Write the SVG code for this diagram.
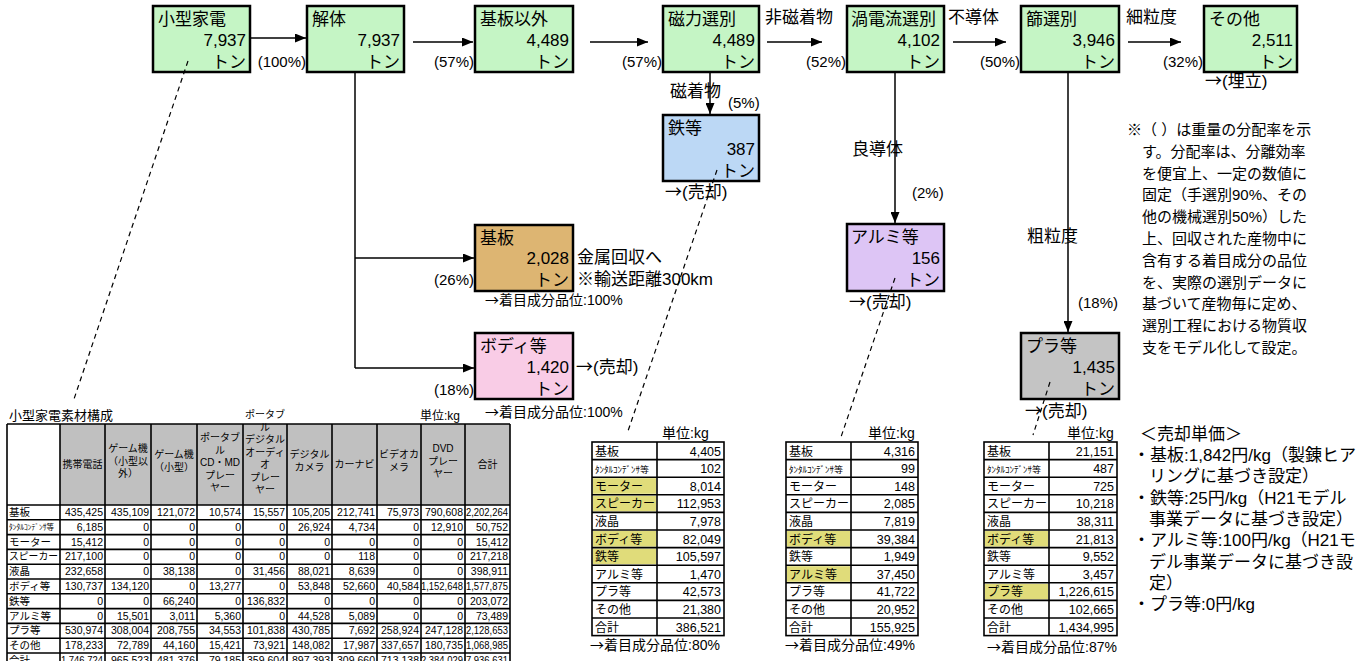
<svg xmlns="http://www.w3.org/2000/svg" width="1367" height="661" viewBox="0 0 1367 661">
<defs>
<marker id="ah" markerUnits="userSpaceOnUse" markerWidth="11" markerHeight="9" refX="11" refY="4.5" orient="auto"><path d="M0,0 L11,4.5 L0,9 z" fill="#000"/></marker>
<style>
text{font-family:"Liberation Sans","Noto Sans CJK JP",sans-serif;fill:#000}
.ja{font-family:"Noto Sans CJK JP",sans-serif}
.box{stroke:#000;stroke-width:2.5}
.bt{font-size:17px}
.r{text-anchor:end}
.c{text-anchor:middle}
.p{font-size:15px}
.s14{font-size:14px}
.ln{stroke:#000;stroke-width:1.5;fill:none}
.ar{stroke:#000;stroke-width:1.5;fill:none;marker-end:url(#ah)}
.ds{stroke:#000;stroke-width:1.2;fill:none;stroke-dasharray:5 4}
.g{stroke:#000;stroke-width:1.6;fill:none}
.th{font-size:10px;text-anchor:middle}
.tl{font-size:10.5px}
.n{font-size:10.5px;text-anchor:end}
.sl{font-size:12px}
.sn{font-size:12.5px;text-anchor:end}
.hl{fill:#e0dc7a}
.nt{font-size:15px}
.pr{font-size:17px}
</style>
</defs>
<rect width="1367" height="661" fill="#fff"/>

<!-- flow nodes -->
<g id="n-kogata"><rect class="box" x="153" y="6" width="97" height="66" fill="#c5f5c5"/><text class="bt" x="158" y="25">小型家電</text><text class="bt r" x="246" y="46">7,937</text><text class="bt r" x="246" y="68">トン</text></g>
<g id="n-kaitai"><rect class="box" x="307" y="6" width="97" height="66" fill="#c5f5c5"/><text class="bt" x="312" y="25">解体</text><text class="bt r" x="400" y="46">7,937</text><text class="bt r" x="400" y="68">トン</text></g>
<g id="n-kibanigai"><rect class="box" x="475" y="6" width="98" height="66" fill="#c5f5c5"/><text class="bt" x="480" y="25">基板以外</text><text class="bt r" x="569" y="46">4,489</text><text class="bt r" x="569" y="68">トン</text></g>
<g id="n-jiryoku"><rect class="box" x="663" y="6" width="96" height="66" fill="#c5f5c5"/><text class="bt" x="668" y="25">磁力選別</text><text class="bt r" x="755" y="46">4,489</text><text class="bt r" x="755" y="68">トン</text></g>
<g id="n-kadenryu"><rect class="box" x="847" y="6" width="97" height="66" fill="#c5f5c5"/><text class="bt" x="851" y="25">渦電流選別</text><text class="bt r" x="940" y="46">4,102</text><text class="bt r" x="940" y="68">トン</text></g>
<g id="n-furui"><rect class="box" x="1021" y="6" width="98" height="66" fill="#c5f5c5"/><text class="bt" x="1026" y="25">篩選別</text><text class="bt r" x="1115" y="46">3,946</text><text class="bt r" x="1115" y="68">トン</text></g>
<g id="n-sonota"><rect class="box" x="1204" y="6" width="93" height="66" fill="#c5f5c5"/><text class="bt" x="1209" y="25">その他</text><text class="bt r" x="1293" y="46">2,511</text><text class="bt r" x="1293" y="68">トン</text></g>
<g id="n-tetsu"><rect class="box" x="663" y="115" width="96" height="66" fill="#bcd8f5"/><text class="bt" x="668" y="134">鉄等</text><text class="bt r" x="755" y="155">387</text><text class="bt r" x="755" y="177">トン</text></g>
<g id="n-kiban"><rect class="box" x="475" y="225" width="98" height="66" fill="#ddb572"/><text class="bt" x="480" y="244">基板</text><text class="bt r" x="569" y="264">2,028</text><text class="bt r" x="569" y="286">トン</text></g>
<g id="n-body"><rect class="box" x="475" y="333" width="98" height="66" fill="#f9cce6"/><text class="bt" x="480" y="352">ボディ等</text><text class="bt r" x="569" y="373">1,420</text><text class="bt r" x="569" y="395">トン</text></g>
<g id="n-alumi"><rect class="box" x="847" y="224" width="97" height="67" fill="#ddc5f5"/><text class="bt" x="851" y="243">アルミ等</text><text class="bt r" x="940" y="264">156</text><text class="bt r" x="940" y="286">トン</text></g>
<g id="n-pura"><rect class="box" x="1021" y="333" width="98" height="66" fill="#c4c4c4"/><text class="bt" x="1026" y="352">プラ等</text><text class="bt r" x="1115" y="373">1,435</text><text class="bt r" x="1115" y="395">トン</text></g>

<!-- connectors -->
<g id="connectors">
<line class="ar" x1="251" y1="38" x2="306" y2="38"/>
<line class="ar" x1="413" y1="42" x2="473" y2="42"/>
<line class="ar" x1="590" y1="42" x2="648" y2="42"/>
<line class="ar" x1="767" y1="42" x2="822" y2="42"/>
<line class="ar" x1="953" y1="42" x2="1006" y2="42"/>
<line class="ar" x1="1128" y1="42" x2="1181" y2="42"/>
<line class="ar" x1="710" y1="73" x2="710" y2="114"/>
<line class="ar" x1="895" y1="73" x2="895" y2="223"/>
<line class="ar" x1="1068" y1="73" x2="1068" y2="332"/>
<polyline class="ln" points="355,73 355,368"/>
<line class="ar" x1="355" y1="258" x2="474" y2="258"/>
<line class="ar" x1="355" y1="368" x2="474" y2="368"/>
<line class="ds" x1="188" y1="61" x2="73" y2="402"/>
<line class="ds" x1="717" y1="170" x2="627" y2="434"/>
<line class="ds" x1="895" y1="278" x2="841" y2="437"/>
<line class="ds" x1="1050" y1="382" x2="1033" y2="435"/>
</g>

<!-- flow labels -->
<g id="labels">
<text class="p r" x="306" y="67">(100%)</text>
<text class="p r" x="474" y="67">(57%)</text>
<text class="p r" x="662" y="67">(57%)</text>
<text class="p r" x="846" y="67">(52%)</text>
<text class="p r" x="1020" y="67">(50%)</text>
<text class="p r" x="1203" y="67">(32%)</text>
<text class="bt" x="765" y="23">非磁着物</text>
<text class="bt" x="948" y="23">不導体</text>
<text class="bt" x="1126" y="23">細粒度</text>
<text class="bt" x="1205" y="87"><tspan class="ja">→</tspan>(埋立)</text>
<text class="bt" x="670" y="97">磁着物</text>
<text class="p" x="728" y="108">(5%)</text>
<text class="bt" x="665" y="198"><tspan class="ja">→</tspan>(売却)</text>
<text class="bt" x="852" y="155">良導体</text>
<text class="p" x="912" y="198">(2%)</text>
<text class="bt" x="849" y="308"><tspan class="ja">→</tspan>(売却)</text>
<text class="bt" x="1027" y="242">粗粒度</text>
<text class="p" x="1078" y="308">(18%)</text>
<text class="bt" x="1025" y="417"><tspan class="ja">→</tspan>(売却)</text>
<text class="bt" x="577" y="263">金属回収へ</text>
<text class="bt" x="577" y="285">※輸送距離300km</text>
<text class="p r" x="474" y="285">(26%)</text>
<text class="s14" x="485" y="305"><tspan class="ja">→</tspan>着目成分品位:100%</text>
<text class="bt" x="576" y="373"><tspan class="ja">→</tspan>(売却)</text>
<text class="p r" x="474" y="395">(18%)</text>
<text class="s14" x="485" y="417"><tspan class="ja">→</tspan>着目成分品位:100%</text>
</g>

<!-- note -->
<g id="note">
<text class="nt" x="1127" y="135">※（ ）は重量の分配率を示</text>
<text class="nt" x="1142" y="156.8">す。分配率は、分離効率</text>
<text class="nt" x="1142" y="178.6">を便宜上、一定の数値に</text>
<text class="nt" x="1142" y="200.4">固定（手選別90%、その</text>
<text class="nt" x="1142" y="222.2">他の機械選別50%）した</text>
<text class="nt" x="1142" y="244">上、回収された産物中に</text>
<text class="nt" x="1142" y="265.8">含有する着目成分の品位</text>
<text class="nt" x="1142" y="287.6">を、実際の選別データに</text>
<text class="nt" x="1142" y="309.4">基づいて産物毎に定め、</text>
<text class="nt" x="1142" y="331.2">選別工程における物質収</text>
<text class="nt" x="1142" y="353">支をモデル化して設定。</text>
</g>

<g id="prices">
<text class="pr" x="1140" y="440">＜売却単価＞</text>
<text class="pr" x="1133" y="461">・基板:1,842円/kg（製錬ヒア</text>
<text class="pr" x="1149" y="482">リングに基づき設定）</text>
<text class="pr" x="1133" y="503.5">・鉄等:25円/kg（H21モデル</text>
<text class="pr" x="1149" y="525">事業データに基づき設定）</text>
<text class="pr" x="1133" y="546">・アルミ等:100円/kg（H21モ</text>
<text class="pr" x="1149" y="567.5">デル事業データに基づき設</text>
<text class="pr" x="1149" y="589">定）</text>
<text class="pr" x="1133" y="610">・プラ等:0円/kg</text>
</g>

<!-- big table -->
<g id="table-main">
<text style="font-size:13px" x="9" y="420">小型家電素材構成</text>
<text style="font-size:12px" x="420" y="420">単位:kg</text>
<rect x="60" y="424" width="450" height="81" fill="#c0c0c0"/>
<g class="g">
<line x1="7" y1="424" x2="510" y2="424"/>
<line x1="7" y1="505" x2="510" y2="505"/>
<line x1="7" y1="519.8" x2="510" y2="519.8"/>
<line x1="7" y1="534.6" x2="510" y2="534.6"/>
<line x1="7" y1="549.4" x2="510" y2="549.4"/>
<line x1="7" y1="564.2" x2="510" y2="564.2"/>
<line x1="7" y1="579" x2="510" y2="579"/>
<line x1="7" y1="593.8" x2="510" y2="593.8"/>
<line x1="7" y1="608.6" x2="510" y2="608.6"/>
<line x1="7" y1="623.4" x2="510" y2="623.4"/>
<line x1="7" y1="638.2" x2="510" y2="638.2"/>
<line x1="7" y1="653" x2="510" y2="653"/>
<line x1="7" y1="424" x2="7" y2="661"/>
<line x1="60" y1="424" x2="60" y2="661"/>
<line x1="105" y1="424" x2="105" y2="661"/>
<line x1="151" y1="424" x2="151" y2="661"/>
<line x1="197" y1="424" x2="197" y2="661"/>
<line x1="243" y1="424" x2="243" y2="661"/>
<line x1="287" y1="424" x2="287" y2="661"/>
<line x1="332" y1="424" x2="332" y2="661"/>
<line x1="377" y1="424" x2="377" y2="661"/>
<line x1="421" y1="424" x2="421" y2="661"/>
<line x1="465" y1="424" x2="465" y2="661"/>
<line x1="510" y1="424" x2="510" y2="661"/>
</g>
<text class="th" x="82.5" y="468">携帯電話</text>
<text class="th" x="128" y="452">ゲーム機</text><text class="th" x="128" y="464.5">（小型以</text><text class="th" x="128" y="477">外）</text>
<text class="th" x="174" y="458">ゲーム機</text><text class="th" x="174" y="470.5">（小型）</text>
<text class="th" x="220" y="441">ポータブ</text><text class="th" x="220" y="453.5">ル</text><text class="th" x="220" y="466">CD・MD</text><text class="th" x="220" y="478.5">プレー</text><text class="th" x="220" y="491">ヤー</text>
<text class="th" x="265" y="418">ポータブ</text><text class="th" x="265" y="430.5">ル</text><text class="th" x="265" y="443">デジタル</text><text class="th" x="265" y="455.5">オーディ</text><text class="th" x="265" y="468">オ</text><text class="th" x="265" y="480.5">プレー</text><text class="th" x="265" y="493">ヤー</text>
<text class="th" x="309.5" y="458">デジタル</text><text class="th" x="309.5" y="470.5">カメラ</text>
<text class="th" x="354.5" y="468">カーナビ</text>
<text class="th" x="399" y="458">ビデオカ</text><text class="th" x="399" y="470.5">メラ</text>
<text class="th" x="443" y="452">DVD</text><text class="th" x="443" y="464.5">プレー</text><text class="th" x="443" y="477">ヤー</text>
<text class="th" x="487.5" y="468">合計</text>

<g transform="translate(0,505)"><text class="tl" x="9" y="11">基板</text><text class="n" x="103" y="11">435,425</text><text class="n" x="149" y="11">435,109</text><text class="n" x="195" y="11">121,072</text><text class="n" x="241" y="11">10,574</text><text class="n" x="285" y="11">15,557</text><text class="n" x="330" y="11">105,205</text><text class="n" x="375" y="11">212,741</text><text class="n" x="419" y="11">75,973</text><text class="n" x="463" y="11">790,608</text><text class="n" x="508" y="11" textLength="42" lengthAdjust="spacingAndGlyphs">2,202,264</text></g>
<g transform="translate(0,519.8)"><text style="font-size:7.5px" x="9" y="10">ﾀﾝﾀﾙｺﾝﾃﾞﾝｻ等</text><text class="n" x="103" y="11">6,185</text><text class="n" x="149" y="11">0</text><text class="n" x="195" y="11">0</text><text class="n" x="241" y="11">0</text><text class="n" x="285" y="11">0</text><text class="n" x="330" y="11">26,924</text><text class="n" x="375" y="11">4,734</text><text class="n" x="419" y="11">0</text><text class="n" x="463" y="11">12,910</text><text class="n" x="508" y="11">50,752</text></g>
<g transform="translate(0,534.6)"><text class="tl" x="9" y="11">モーター</text><text class="n" x="103" y="11">15,412</text><text class="n" x="149" y="11">0</text><text class="n" x="195" y="11">0</text><text class="n" x="241" y="11">0</text><text class="n" x="285" y="11">0</text><text class="n" x="330" y="11">0</text><text class="n" x="375" y="11">0</text><text class="n" x="419" y="11">0</text><text class="n" x="463" y="11">0</text><text class="n" x="508" y="11">15,412</text></g>
<g transform="translate(0,549.4)"><text class="tl" x="9" y="11" textLength="49" lengthAdjust="spacingAndGlyphs">スピーカー</text><text class="n" x="103" y="11">217,100</text><text class="n" x="149" y="11">0</text><text class="n" x="195" y="11">0</text><text class="n" x="241" y="11">0</text><text class="n" x="285" y="11">0</text><text class="n" x="330" y="11">0</text><text class="n" x="375" y="11">118</text><text class="n" x="419" y="11">0</text><text class="n" x="463" y="11">0</text><text class="n" x="508" y="11">217,218</text></g>
<g transform="translate(0,564.2)"><text class="tl" x="9" y="11">液晶</text><text class="n" x="103" y="11">232,658</text><text class="n" x="149" y="11">0</text><text class="n" x="195" y="11">38,138</text><text class="n" x="241" y="11">0</text><text class="n" x="285" y="11">31,456</text><text class="n" x="330" y="11">88,021</text><text class="n" x="375" y="11">8,639</text><text class="n" x="419" y="11">0</text><text class="n" x="463" y="11">0</text><text class="n" x="508" y="11">398,911</text></g>
<g transform="translate(0,579)"><text class="tl" x="9" y="11">ボディ等</text><text class="n" x="103" y="11">130,737</text><text class="n" x="149" y="11">134,120</text><text class="n" x="195" y="11">0</text><text class="n" x="241" y="11">13,277</text><text class="n" x="285" y="11">0</text><text class="n" x="330" y="11">53,848</text><text class="n" x="375" y="11">52,660</text><text class="n" x="419" y="11">40,584</text><text class="n" x="463" y="11" textLength="42" lengthAdjust="spacingAndGlyphs">1,152,648</text><text class="n" x="508" y="11" textLength="42" lengthAdjust="spacingAndGlyphs">1,577,875</text></g>
<g transform="translate(0,593.8)"><text class="tl" x="9" y="11">鉄等</text><text class="n" x="103" y="11">0</text><text class="n" x="149" y="11">0</text><text class="n" x="195" y="11">66,240</text><text class="n" x="241" y="11">0</text><text class="n" x="285" y="11">136,832</text><text class="n" x="330" y="11">0</text><text class="n" x="375" y="11">0</text><text class="n" x="419" y="11">0</text><text class="n" x="463" y="11">0</text><text class="n" x="508" y="11">203,072</text></g>
<g transform="translate(0,608.6)"><text class="tl" x="9" y="11">アルミ等</text><text class="n" x="103" y="11">0</text><text class="n" x="149" y="11">15,501</text><text class="n" x="195" y="11">3,011</text><text class="n" x="241" y="11">5,360</text><text class="n" x="285" y="11">0</text><text class="n" x="330" y="11">44,528</text><text class="n" x="375" y="11">5,089</text><text class="n" x="419" y="11">0</text><text class="n" x="463" y="11">0</text><text class="n" x="508" y="11">73,489</text></g>
<g transform="translate(0,623.4)"><text class="tl" x="9" y="11">プラ等</text><text class="n" x="103" y="11">530,974</text><text class="n" x="149" y="11">308,004</text><text class="n" x="195" y="11">208,755</text><text class="n" x="241" y="11">34,553</text><text class="n" x="285" y="11">101,838</text><text class="n" x="330" y="11">430,785</text><text class="n" x="375" y="11">7,692</text><text class="n" x="419" y="11">258,924</text><text class="n" x="463" y="11">247,128</text><text class="n" x="508" y="11" textLength="42" lengthAdjust="spacingAndGlyphs">2,128,653</text></g>
<g transform="translate(0,638.2)"><text class="tl" x="9" y="11">その他</text><text class="n" x="103" y="11">178,233</text><text class="n" x="149" y="11">72,789</text><text class="n" x="195" y="11">44,160</text><text class="n" x="241" y="11">15,421</text><text class="n" x="285" y="11">73,921</text><text class="n" x="330" y="11">148,082</text><text class="n" x="375" y="11">17,987</text><text class="n" x="419" y="11">337,657</text><text class="n" x="463" y="11">180,735</text><text class="n" x="508" y="11" textLength="42" lengthAdjust="spacingAndGlyphs">1,068,985</text></g>
<g transform="translate(0,653)"><text class="tl" x="9" y="11">合計</text><text class="n" x="103" y="11" textLength="42" lengthAdjust="spacingAndGlyphs">1,746,724</text><text class="n" x="149" y="11">965,523</text><text class="n" x="195" y="11">481,376</text><text class="n" x="241" y="11">79,185</text><text class="n" x="285" y="11">359,604</text><text class="n" x="330" y="11">897,393</text><text class="n" x="375" y="11">309,660</text><text class="n" x="419" y="11">713,138</text><text class="n" x="463" y="11" textLength="42" lengthAdjust="spacingAndGlyphs">2,384,029</text><text class="n" x="508" y="11" textLength="42" lengthAdjust="spacingAndGlyphs">7,936,631</text></g>
</g>

<!-- small table: 鉄等 -->
<g id="table-tetsu">
<text class="s14" x="662" y="438">単位:kg</text>
<g transform="translate(592,442)">
<rect class="hl" x="1" y="36.2" width="63" height="15.6"/><rect class="hl" x="1" y="53.8" width="63" height="15.6"/><rect class="hl" x="1" y="89" width="63" height="15.6"/><rect class="hl" x="1" y="106.6" width="63" height="15.6"/>
<g class="g"><rect x="0" y="0" width="132" height="193.6"/><line x1="65" y1="0" x2="65" y2="193.6"/><line x1="0" y1="17.6" x2="132" y2="17.6"/><line x1="0" y1="35.2" x2="132" y2="35.2"/><line x1="0" y1="52.8" x2="132" y2="52.8"/><line x1="0" y1="70.4" x2="132" y2="70.4"/><line x1="0" y1="88" x2="132" y2="88"/><line x1="0" y1="105.6" x2="132" y2="105.6"/><line x1="0" y1="123.2" x2="132" y2="123.2"/><line x1="0" y1="140.8" x2="132" y2="140.8"/><line x1="0" y1="158.4" x2="132" y2="158.4"/><line x1="0" y1="176" x2="132" y2="176"/></g>
<text class="sl" x="3" y="13.5">基板</text><text class="sn" x="129" y="13.5">4,405</text>
<text style="font-size:9px" x="3" y="30.6">ﾀﾝﾀﾙｺﾝﾃﾞﾝｻ等</text><text class="sn" x="129" y="31.1">102</text>
<text class="sl" x="3" y="48.7">モーター</text><text class="sn" x="129" y="48.7">8,014</text>
<text class="sl" x="3" y="66.3">スピーカー</text><text class="sn" x="129" y="66.3">112,953</text>
<text class="sl" x="3" y="83.9">液晶</text><text class="sn" x="129" y="83.9">7,978</text>
<text class="sl" x="3" y="101.5">ボディ等</text><text class="sn" x="129" y="101.5">82,049</text>
<text class="sl" x="3" y="119.1">鉄等</text><text class="sn" x="129" y="119.1">105,597</text>
<text class="sl" x="3" y="136.7">アルミ等</text><text class="sn" x="129" y="136.7">1,470</text>
<text class="sl" x="3" y="154.3">プラ等</text><text class="sn" x="129" y="154.3">42,573</text>
<text class="sl" x="3" y="171.9">その他</text><text class="sn" x="129" y="171.9">21,380</text>
<text class="sl" x="3" y="189.5">合計</text><text class="sn" x="129" y="189.5">386,521</text>
</g>
<text class="s14" x="590" y="650"><tspan class="ja">→</tspan>着目成分品位:80%</text>
</g>

<!-- small table: アルミ等 -->
<g id="table-alumi">
<text class="s14" x="868" y="438">単位:kg</text>
<g transform="translate(786,442)">
<rect class="hl" x="1" y="89" width="63" height="15.6"/><rect class="hl" x="1" y="124.2" width="63" height="15.6"/>
<g class="g"><rect x="0" y="0" width="132" height="193.6"/><line x1="65" y1="0" x2="65" y2="193.6"/><line x1="0" y1="17.6" x2="132" y2="17.6"/><line x1="0" y1="35.2" x2="132" y2="35.2"/><line x1="0" y1="52.8" x2="132" y2="52.8"/><line x1="0" y1="70.4" x2="132" y2="70.4"/><line x1="0" y1="88" x2="132" y2="88"/><line x1="0" y1="105.6" x2="132" y2="105.6"/><line x1="0" y1="123.2" x2="132" y2="123.2"/><line x1="0" y1="140.8" x2="132" y2="140.8"/><line x1="0" y1="158.4" x2="132" y2="158.4"/><line x1="0" y1="176" x2="132" y2="176"/></g>
<text class="sl" x="3" y="13.5">基板</text><text class="sn" x="129" y="13.5">4,316</text>
<text style="font-size:9px" x="3" y="30.6">ﾀﾝﾀﾙｺﾝﾃﾞﾝｻ等</text><text class="sn" x="129" y="31.1">99</text>
<text class="sl" x="3" y="48.7">モーター</text><text class="sn" x="129" y="48.7">148</text>
<text class="sl" x="3" y="66.3">スピーカー</text><text class="sn" x="129" y="66.3">2,085</text>
<text class="sl" x="3" y="83.9">液晶</text><text class="sn" x="129" y="83.9">7,819</text>
<text class="sl" x="3" y="101.5">ボディ等</text><text class="sn" x="129" y="101.5">39,384</text>
<text class="sl" x="3" y="119.1">鉄等</text><text class="sn" x="129" y="119.1">1,949</text>
<text class="sl" x="3" y="136.7">アルミ等</text><text class="sn" x="129" y="136.7">37,450</text>
<text class="sl" x="3" y="154.3">プラ等</text><text class="sn" x="129" y="154.3">41,722</text>
<text class="sl" x="3" y="171.9">その他</text><text class="sn" x="129" y="171.9">20,952</text>
<text class="sl" x="3" y="189.5">合計</text><text class="sn" x="129" y="189.5">155,925</text>
</g>
<text class="s14" x="785" y="650"><tspan class="ja">→</tspan>着目成分品位:49%</text>
</g>

<!-- small table: プラ等 -->
<g id="table-pura">
<text class="s14" x="1067" y="438">単位:kg</text>
<g transform="translate(984,442)">
<rect class="hl" x="1" y="89" width="63" height="15.6"/><rect class="hl" x="1" y="141.8" width="63" height="15.6"/>
<g class="g"><rect x="0" y="0" width="133" height="193.6"/><line x1="65" y1="0" x2="65" y2="193.6"/><line x1="0" y1="17.6" x2="133" y2="17.6"/><line x1="0" y1="35.2" x2="133" y2="35.2"/><line x1="0" y1="52.8" x2="133" y2="52.8"/><line x1="0" y1="70.4" x2="133" y2="70.4"/><line x1="0" y1="88" x2="133" y2="88"/><line x1="0" y1="105.6" x2="133" y2="105.6"/><line x1="0" y1="123.2" x2="133" y2="123.2"/><line x1="0" y1="140.8" x2="133" y2="140.8"/><line x1="0" y1="158.4" x2="133" y2="158.4"/><line x1="0" y1="176" x2="133" y2="176"/></g>
<text class="sl" x="3" y="13.5">基板</text><text class="sn" x="130" y="13.5">21,151</text>
<text style="font-size:9px" x="3" y="30.6">ﾀﾝﾀﾙｺﾝﾃﾞﾝｻ等</text><text class="sn" x="130" y="31.1">487</text>
<text class="sl" x="3" y="48.7">モーター</text><text class="sn" x="130" y="48.7">725</text>
<text class="sl" x="3" y="66.3">スピーカー</text><text class="sn" x="130" y="66.3">10,218</text>
<text class="sl" x="3" y="83.9">液晶</text><text class="sn" x="130" y="83.9">38,311</text>
<text class="sl" x="3" y="101.5">ボディ等</text><text class="sn" x="130" y="101.5">21,813</text>
<text class="sl" x="3" y="119.1">鉄等</text><text class="sn" x="130" y="119.1">9,552</text>
<text class="sl" x="3" y="136.7">アルミ等</text><text class="sn" x="130" y="136.7">3,457</text>
<text class="sl" x="3" y="154.3">プラ等</text><text class="sn" x="130" y="154.3">1,226,615</text>
<text class="sl" x="3" y="171.9">その他</text><text class="sn" x="130" y="171.9">102,665</text>
<text class="sl" x="3" y="189.5">合計</text><text class="sn" x="130" y="189.5">1,434,995</text>
</g>
<text class="s14" x="987" y="652"><tspan class="ja">→</tspan>着目成分品位:87%</text>
</g>
</svg>
